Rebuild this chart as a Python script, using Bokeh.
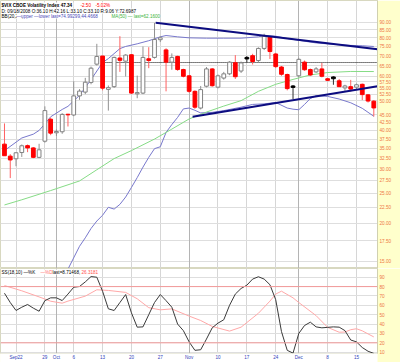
from bokeh.plotting import figure
from bokeh.models import (Range1d, FixedTicker, Grid, Label, PrintfTickFormatter,
                          ColumnDataSource, Span)
from bokeh.layouts import column
from bokeh.embed import file_html
from bokeh.resources import INLINE

# ---------------- data (trading-day index 0 = 2008-09-18 ... 64 = 2008-12-18) ----------------
opens  = [36.10, 33.00, 32.35, 33.90, 35.70, 35.10, 32.70, 36.90, 43.50, 39.30,
          39.60, 45.15, 44.90, 51.80, 53.30, 57.30, 65.70, 69.80, 54.40, 55.50,
          68.80, 67.20, 70.50, 52.60, 52.90, 68.40, 69.10, 78.90, 73.10, 66.70,
          69.60, 63.10, 60.20, 53.60, 47.30, 55.70, 63.40, 55.30, 59.20, 61.10,
          66.40, 62.40, 69.10, 70.00, 67.50, 73.90, 80.40, 70.90, 64.30, 60.80,
          55.80, 60.20, 66.70, 63.10, 62.00, 63.40, 58.90, 59.70, 58.00, 55.00,
          55.50, 55.30, 56.50, 52.20, 49.80]
highs  = [42.16, 33.50, 34.00, 36.00, 36.00, 35.30, 36.20, 47.90, 44.00, 40.30,
          45.50, 45.30, 57.80, 54.50, 59.30, 64.50, 76.50, 70.00, 56.00, 69.50,
          81.00, 70.80, 70.80, 60.30, 75.00, 74.60, 89.50, 81.00, 74.00, 71.20,
          70.00, 63.50, 60.50, 54.00, 55.80, 64.30, 63.80, 60.80, 62.00, 67.20,
          70.30, 67.00, 69.80, 71.00, 74.50, 82.50, 80.80, 71.50, 64.80, 61.20,
          56.20, 68.90, 67.50, 63.60, 64.30, 66.30, 59.30, 60.00, 58.80, 56.30,
          58.40, 56.80, 56.80, 52.50, 50.20]
lows   = [33.10, 28.00, 30.60, 32.80, 34.00, 32.50, 32.50, 36.50, 38.60, 38.40,
          39.00, 41.20, 44.50, 50.30, 52.50, 56.50, 65.00, 54.00, 46.40, 55.00,
          62.00, 59.90, 52.50, 50.90, 52.50, 63.75, 68.50, 77.50, 53.60, 63.00,
          62.50, 59.50, 53.00, 47.00, 46.80, 55.20, 55.50, 54.80, 58.50, 60.50,
          58.80, 61.50, 66.50, 65.50, 66.50, 73.00, 68.30, 63.80, 60.20, 54.00,
          50.60, 59.80, 62.50, 60.10, 61.50, 59.50, 57.80, 56.30, 55.50, 53.80,
          53.50, 54.50, 50.20, 49.30, 44.40]
closes = [33.10, 32.07, 33.84, 35.66, 35.10, 32.70, 34.60, 46.40, 39.20, 39.70,
          45.10, 44.95, 51.80, 53.70, 57.40, 63.75, 69.60, 54.90, 55.10, 69.10,
          67.60, 70.30, 52.90, 53.10, 69.10, 67.50, 79.00, 80.00, 66.70, 69.10,
          63.10, 60.00, 53.60, 47.60, 54.30, 63.40, 55.90, 60.20, 61.10, 66.70,
          59.80, 66.30, 68.30, 67.00, 73.90, 80.90, 72.20, 64.50, 60.90, 54.70,
          55.20, 68.10, 63.00, 60.60, 63.40, 60.00, 58.20, 58.90, 55.50, 55.80,
          54.50, 56.30, 52.30, 49.84, 47.34]

bb_upper_idx = [0, 3, 5, 6, 7, 8, 10, 11, 13, 15, 17, 18, 20, 21, 23, 25, 27, 28, 30, 32,
                35, 38, 41, 44, 45, 47, 49, 51, 54, 57, 60, 62, 64]
bb_upper_val = [34.4, 37.8, 38.9, 40.0, 42.0, 44.3, 46.8, 47.9, 52.0, 58.5, 66.5, 68.5, 73.8,
                75.0, 76.5, 78.3, 80.6, 81.4, 80.6, 80.0, 79.8, 79.8, 79.8, 80.6, 81.4, 81.0,
                79.6, 78.5, 77.0, 76.2, 75.6, 75.4, 74.99]
bb_lower_idx = [10, 13, 14, 15, 16, 17, 18, 19, 20, 21, 22, 23, 24, 25, 26, 27, 28, 29, 30,
                31, 32, 33, 34, 35, 36, 38, 41, 43, 45, 47, 49, 50, 51, 52, 53, 54, 56, 58,
                60, 62, 64]
bb_lower_val = [13.0, 16.8, 17.9, 19.2, 20.3, 21.2, 22.5, 22.2, 23.0, 24.3, 26.1, 28.1, 30.4,
                32.7, 34.9, 35.4, 39.4, 41.8, 44.1, 47.0, 47.3, 46.5, 45.6, 45.7, 45.8, 46.4,
                47.6, 48.6, 48.8, 49.3, 47.3, 46.9, 46.7, 48.6, 50.8, 51.9, 51.6, 50.6, 49.2,
                47.2, 44.47]
ma50_idx = [0, 3, 8, 13, 16, 19, 22, 26, 29, 32, 35, 38, 41, 44, 47, 50, 53, 56, 60, 64]
ma50_val = [22.9, 23.8, 25.5, 27.4, 29.8, 32.4, 34.4, 37.5, 40.4, 43.6, 45.9, 48.0, 50.0,
            53.6, 56.5, 58.6, 60.6, 61.7, 62.2, 62.16]

# hand-drawn trendlines and level (endpoints)
trend_upper_idx = [26.2, 64.64]
trend_upper_val = [89.5, 73.4]
trend_lower_idx = [32.6, 64.64]
trend_lower_val = [44.3, 55.7]
level_idx = [17.5, 64.64]
level_val = [66.5, 66.5]

# slow stochastic panel
stoch_k = [72.9, 63, 54.5, 58, 60.9, 57, 53.7, 65, 68, 68,
           65.1, 72, 79.3, 80.1, 85, 90.7, 90, 75, 56.3, 54.5,
           63, 71.5, 52, 36.7, 37, 50, 63, 71.5, 65, 58,
           40, 33, 21, 12, 12.6, 24, 36, 41, 44.6, 60,
           72, 78, 81.5, 88, 90.5, 88, 82, 66, 32, 12,
           9, 30, 38.5, 42, 37, 36, 36.5, 37, 36.7, 33,
           23, 21, 15, 11, 8.71]
stoch_d_idx = [0, 3, 6, 8, 10, 11, 14, 16, 18, 21, 23, 25, 27, 29, 32, 34, 36, 39, 41, 44,
               46, 47, 48, 50, 51, 54, 56, 58, 59, 60, 61, 62, 63, 64]
stoch_d_val = [81.1, 75.5, 69.0, 64.4, 62.3, 64.5, 69.8, 76.6, 75.9, 73.8, 67.0, 57.5, 55.2,
               56.2, 48.5, 43.8, 37.5, 32.5, 36.7, 51.5, 64.5, 72.0, 75.1, 68.0, 63.0, 49.0,
               36.5, 31.3, 31.5, 34.0, 35.0, 32.8, 29.5, 26.3]

week_ticks = [2, 7, 12, 17, 22, 27, 37, 42, 47, 56, 61]
month_ticks = [9, 32, 51]
date_tick_idx = [2, 7, 9, 12, 17, 22, 27, 32, 37, 42, 47, 51, 56, 61]
date_tick_lbl = ["Sep22", "29", "Oct", "6", "13", "20", "27", "Nov", "10", "17", "24", "Dec", "8", "15"]
price_ticks = [15, 17.5, 20, 22.5, 25, 27.5, 30, 32.5, 35, 37.5, 40, 42.5, 45, 50, 52.5, 55,
               57.5, 60, 65, 70, 75, 80, 85, 90]
stoch_ticks = [10, 20, 30, 40, 50, 60, 70, 80, 90]

# ---------------- styling helpers ----------------
YELLOW = "#ffffcc"
AXIS_TXT = "#ee7744"
FONT = "Liberation Sans"

n = len(closes)
idx = list(range(n))
fills, lines_c, wicks = [], [], []
for i in range(n):
    prev = closes[i - 1] if i > 0 else opens[0]
    down = closes[i] < prev
    hollow = closes[i] > opens[i]
    base = "#ff0000" if down else ("#808080" if hollow else "#000000")
    fills.append("white" if hollow else base)
    lines_c.append(base)
    wicks.append("#ff6060" if down else ("#909090" if hollow else "#303030"))

src = ColumnDataSource(dict(x=idx, o=opens, h=highs, l=lows, c=closes,
                            top=[max(a, b) for a, b in zip(opens, closes)],
                            bot=[min(a, b) for a, b in zip(opens, closes)],
                            fill=fills, line=lines_c, wick=wicks))

xr = Range1d(-0.69, 64.64)

# ---------------- main price panel ----------------
p = figure(width=400, height=268, x_range=xr, y_range=Range1d(14.23, 105.8),
           y_axis_type="log", y_axis_location="right", x_axis_location=None,
           output_backend="svg", toolbar_location=None,
           min_border_left=0, min_border_top=0, min_border_bottom=0, min_border_right=23,
           border_fill_color=YELLOW, background_fill_color="white",
           outline_line_color="#d8d8c0")
ax = p.yaxis[0]
ax.ticker = FixedTicker(ticks=price_ticks)
ax.formatter = PrintfTickFormatter(format="%.2f")
ax.major_label_text_font_size = "4.7px"
ax.major_label_text_font = FONT
ax.major_label_text_color = AXIS_TXT
ax.major_tick_out = 0
ax.major_tick_in = 0
ax.minor_tick_out = 0
ax.minor_tick_in = 0
ax.major_label_standoff = 2
ax.axis_line_color = "#d0d0b0"
p.ygrid.grid_line_color = "#dedede"
p.xgrid.ticker = FixedTicker(ticks=week_ticks)
p.xgrid.grid_line_color = "#d6d6d6"
p.add_layout(Grid(dimension=0, ticker=FixedTicker(ticks=month_ticks),
                  grid_line_color="#b4b4b4"))

p.line(bb_upper_idx, bb_upper_val, line_color="#7878cc", line_width=1)
p.line(bb_lower_idx, bb_lower_val, line_color="#7878cc", line_width=1)
p.line(ma50_idx, ma50_val, line_color="#86dc86", line_width=1)
p.line(level_idx, level_val, line_color="#000000", line_width=1, line_dash="1 1")

p.segment(x0="x", y0="l", x1="x", y1="h", line_color="wick", line_width=1, source=src)
p.vbar(x="x", width=0.65, top="top", bottom="bot", fill_color="fill",
       line_color="line", line_width=1, source=src)

p.line(trend_upper_idx, trend_upper_val, line_color="#0c0c80", line_width=2)
p.line(trend_lower_idx, trend_lower_val, line_color="#0c0c80", line_width=2)

H = 268
def hdr(fig, x, y_from_top, text, color="#000000", bold=False, fh=H):
    fig.add_layout(Label(x=x, y=fh - y_from_top, x_units="screen", y_units="screen",
                         text=text, text_font=FONT, text_font_size="4.6px",
                         text_color=color, text_baseline="top",
                         text_font_style="bold" if bold else "normal",
                         background_fill_color="white"))

hdr(p, 1, 2, "$VIX CBOE Volatility Index  47.34", bold=True)
hdr(p, 80, 2, "-2.50", color="#ff0000")
hdr(p, 95, 2, "-5.02%", color="#ff0000")
hdr(p, 1, 8, "D: 09/18/2008 O:36.10 H:42.16 L:33.10 C:33.10 R:9.06 Y:72.6987")
hdr(p, 1, 13, "BB(20,2.0)")
hdr(p, 16, 13, "\u2014upper \u2014lower last=74.99299,44.4668", color="#4a4ab8")
hdr(p, 111, 13, "MA(50) \u2014 last=62.1600", color="#3cb43c")

p.add_layout(Label(x=378, y=closes[-1], x_units="screen", y_units="data",
                   text="%.2f" % closes[-1], text_font=FONT, text_font_size="4.8px",
                   text_font_style="bold", text_color="white", text_baseline="middle",
                   background_fill_color="#ff0000"))

# ---------------- stochastic panel ----------------
q = figure(width=400, height=94, x_range=xr, y_range=Range1d(8.6, 99.3),
           y_axis_location="right", x_axis_location="below",
           output_backend="svg", toolbar_location=None,
           min_border_left=0, min_border_top=0, min_border_bottom=9, min_border_right=23,
           border_fill_color=YELLOW, background_fill_color="white",
           outline_line_color="#d8d8c0")
qa = q.yaxis[0]
qa.ticker = FixedTicker(ticks=stoch_ticks)
qa.major_label_text_font_size = "4.7px"
qa.major_label_text_font = FONT
qa.major_label_text_color = AXIS_TXT
qa.major_tick_out = 0
qa.major_tick_in = 0
qa.minor_tick_out = 0
qa.minor_tick_in = 0
qa.major_label_standoff = 2
qa.axis_line_color = "#d0d0b0"
q.ygrid.grid_line_color = "#dedede"

xa = q.xaxis[0]
xa.ticker = FixedTicker(ticks=date_tick_idx)
xa.major_label_overrides = {t: s for t, s in zip(date_tick_idx, date_tick_lbl)}
xa.major_label_text_font_size = "4.6px"
xa.major_label_text_font = FONT
xa.major_label_text_color = "#3344bb"
xa.major_tick_out = 0
xa.major_tick_in = 0
xa.minor_tick_out = 0
xa.minor_tick_in = 0
xa.major_label_standoff = 1
xa.axis_line_color = None
xa.background_fill_color = "white"
q.xgrid.ticker = FixedTicker(ticks=week_ticks)
q.xgrid.grid_line_color = "#d6d6d6"
q.add_layout(Grid(dimension=0, ticker=FixedTicker(ticks=month_ticks),
                  grid_line_color="#b4b4b4"))

for lv in (20, 80):
    q.add_layout(Span(location=lv, dimension="width", line_color="#f29a9a", line_width=1))

q.line(stoch_d_idx, stoch_d_val, line_color="#ffa8a8", line_width=1)
q.line(idx, stoch_k, line_color="#3a3a3a", line_width=1)

QH = 85
hdr(q, 1, 1, "SS(18,10) \u2014%K", fh=QH)
hdr(q, 40, 1, "\u2014%D", color="#ff7070", fh=QH)
hdr(q, 52, 1, "last=8.71468,", fh=QH)
hdr(q, 81, 1, "26.3181", color="#ff5050", fh=QH)

layout = column(p, q, spacing=0)
open("out.html", "w").write(file_html(layout, INLINE))
